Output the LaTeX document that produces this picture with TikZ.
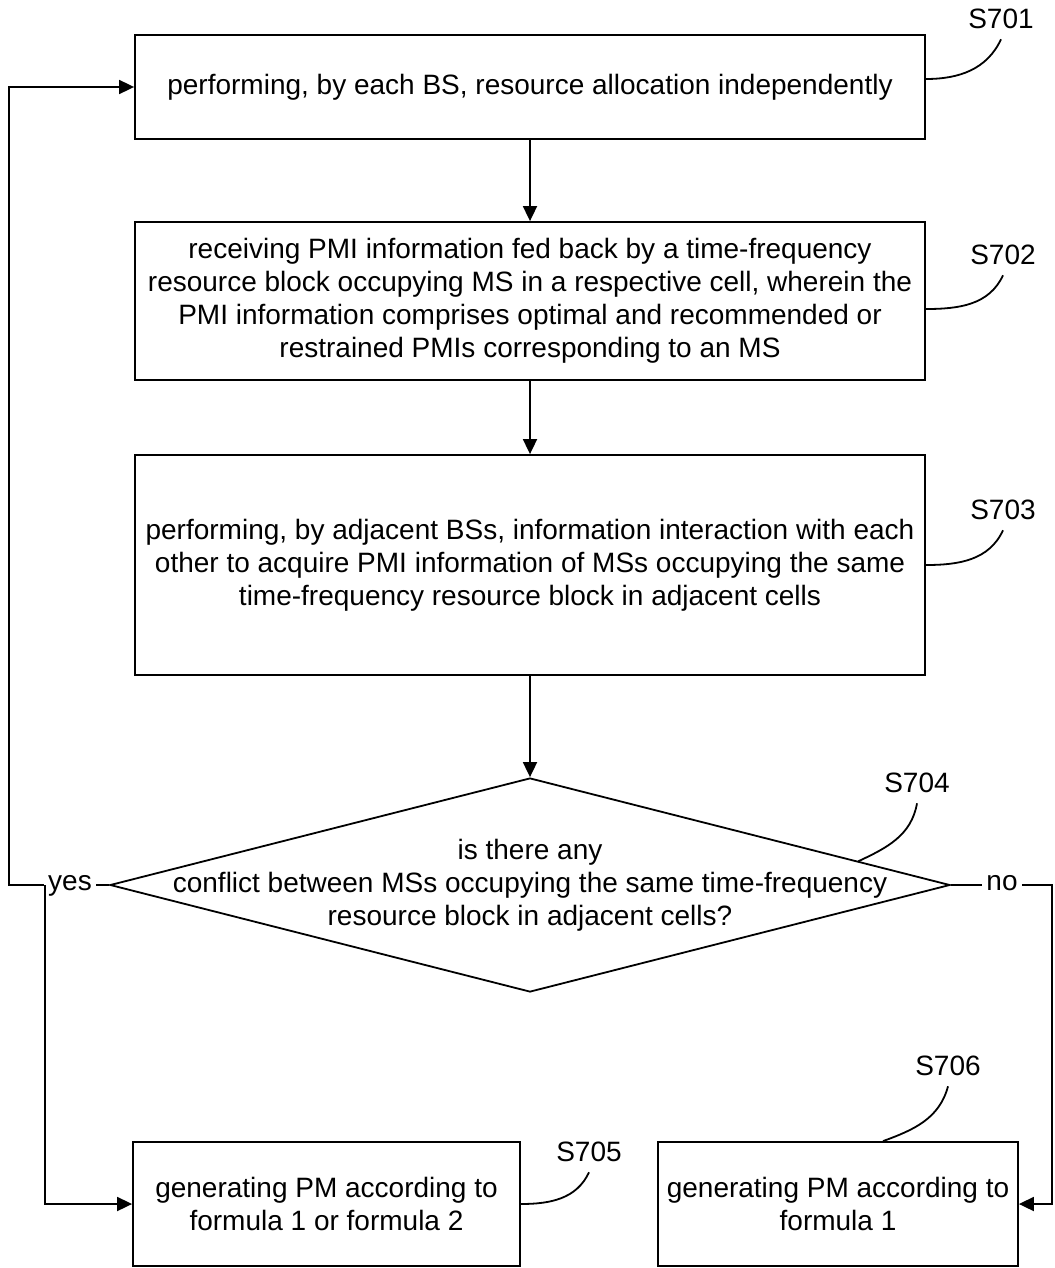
\documentclass[tikz,border=0pt]{standalone}
\usepackage{fontspec}
\setmainfont{Liberation Sans}
\usetikzlibrary{shapes.geometric,arrows.meta,calc}

\tikzset{
  stepbox/.style={rectangle, draw, line width=0.9pt, align=center, inner sep=0pt, minimum width=395pt},
  tag/.style={inner sep=5pt},
  link/.style={line width=0.9pt, -{Triangle[length=7.5pt,width=7pt]}},
  lead/.style={line width=0.9pt},
}

\begin{document}
\begin{tikzpicture}[x=0.5pt, y=-0.5pt, font=\fontsize{14}{16.5}\selectfont]
  \useasboundingbox (0,0) rectangle (1054,1268);

  \node (s1) at (530, 87) [stepbox, minimum height=52pt] {performing, by each BS, resource allocation independently};
  \node (s2) at (530, 301) [stepbox, minimum height=79pt] {receiving PMI information fed back by a time-frequency\\resource block occupying MS in a respective cell, wherein the\\PMI information comprises optimal and recommended or\\restrained PMIs corresponding to an MS};
  \node (s3) at (530, 565) [stepbox, minimum height=110pt] {performing, by adjacent BSs, information interaction with each\\other to acquire PMI information of MSs occupying the same\\time-frequency resource block in adjacent cells};
  \node (d) at (530, 885) [diamond, draw, line width=0.9pt, inner sep=0pt, minimum width=420pt, minimum height=107pt] {};
  \node (q) at (d.center) [align=center] {is there any\\conflict between MSs occupying the same time-frequency\\resource block in adjacent cells?};
  \node (s5) at (326.5, 1204) [stepbox, minimum width=193.5pt, minimum height=62pt] {generating PM according to\\formula 1 or formula 2};
  \node (s6) at (838, 1204) [stepbox, minimum width=180pt, minimum height=62pt] {generating PM according to\\formula 1};

  \node (yes) at (70, 885) [inner sep=2pt, anchor=mid] {yes};
  \node (no) at (1002, 885) [inner sep=2pt, anchor=mid] {no};
  \coordinate (lc) at (9, 885);
  \coordinate (yb) at (45, 885);
  \coordinate (rc) at (1052, 885);

  % step tags
  \node (t1) at (1001, 19) [tag] {S701};
  \node (t2) at (1003, 255) [tag] {S702};
  \node (t3) at (1003, 510) [tag] {S703};
  \node (t4) at (917, 783) [tag] {S704};
  \node (t5) at (589, 1152) [tag] {S705};
  \node (t6) at (948, 1066) [tag] {S706};

  \draw[link] (s1) -- (s2);
  \draw[link] (s2) -- (s3);
  \draw[link] (s3) -- (d);

  \draw[lead] (d.west) -- (yes.mid east);
  \draw[link] (yes.mid west) -- (lc) |- (s1.west);
  \draw[link] (yb) |- (s5.west);
  \draw[lead] (d.east) -- (no.mid west);
  \draw[link] (no.mid east) -- (rc) |- (s6.east);

  \draw[lead] ([yshift=4pt]s1.east) to[out=0, in=-115] (t1.south);
  \draw[lead] ([yshift=-4pt]s2.east) to[out=0, in=-115] (t2.south);
  \draw[lead] (s3.east) to[out=0, in=-115] (t3.south);
  \draw[lead] ($(d.east)!0.22!(d.north)$) to[out=25, in=-100] (t4.south);
  \draw[lead] (s5.east) to[out=0, in=-115] (t5.south);
  \draw[lead] ([xshift=22.5pt]s6.north) to[out=20, in=-105] (t6.south);
\end{tikzpicture}
\end{document}
